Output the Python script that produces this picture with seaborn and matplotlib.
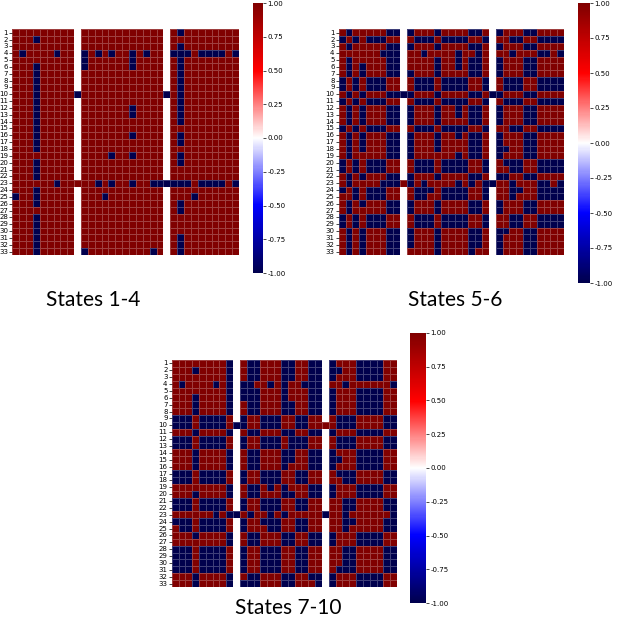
import numpy as np
import seaborn as sns
import matplotlib.pyplot as plt

# states 1-4: blue (-1) cells per row (1-based column numbers), everything else red (+1)
blue_1_4 = [
    [25], [4], [25],
    [2, 7, 11, 13, 15, 18, 20, 24, 25, 26, 28, 29, 30, 31, 33],
    [11, 18, 25], [4, 11, 18, 25], [4, 25], [4, 25], [4, 25],
    [4, 10, 23, 25], [4, 25], [4, 18, 25], [4, 18, 25], [4, 25],
    [4], [4, 18, 25], [4, 25], [4], [15, 18, 25], [4, 25], [4], [4],
    [7, 13, 15, 18, 21, 22, 23, 24, 25, 26, 28, 29, 30, 31, 33],
    [4], [1, 4, 14, 27], [4, 25], [25], [4], [4], [4], [4, 25], [4, 25],
    [4, 11, 21, 25],
]
# white (zero) columns, filled only on these rows
blank_cols = [10, 23]
filled_rows = [10, 23]

# row/column sign flips seen in the other two panels
flip_5_6 = "+-+++++--+-+++-++++--++--++--++++"
flip_7_10 = "++++++++--+--+++--++--+--++----++"

labels = list(range(1, 34))
titles = ["States 1-4", "States 5-6", "States 7-10"]


def build_base():
    m = np.ones((33, 33))
    for c in blank_cols:
        m[:, c - 1] = 0
    for r in filled_rows:
        for c in blank_cols:
            m[r - 1, c - 1] = 1
    for i, cols in enumerate(blue_1_4):
        for c in cols:
            m[i, c - 1] = -1
    return m


def signs(s):
    return np.array([1 if ch == "+" else -1 for ch in s])


base = build_base()
mats = [base,
        np.outer(signs(flip_5_6), signs(flip_5_6)) * base,
        np.outer(signs(flip_7_10), signs(flip_7_10)) * base]

W = 617
fig = plt.figure(figsize=(6.17, 6.17), dpi=100)


def box(x0, y0, x1, y1):
    # pixel box (top-left origin) -> figure fraction
    return [x0 / W, 1 - y1 / W, (x1 - x0) / W, (y1 - y0) / W]


heat_boxes = [box(12.3, 29.3, 239, 255), box(338.7, 29.3, 564, 255), box(171.7, 360, 397, 587)]
cbar_boxes = [box(252.5, 3, 263, 273), box(578, 3, 590, 283), box(410, 333, 426, 603)]
title_pos = [(93, 300), (455, 300), (288, 608)]

ticks = [-1, -0.75, -0.5, -0.25, 0, 0.25, 0.5, 0.75, 1]

for m, hb, cb, t, tp in zip(mats, heat_boxes, cbar_boxes, titles, title_pos):
    ax = fig.add_axes(hb)
    cax = fig.add_axes(cb)
    sns.heatmap(m, cmap="seismic", vmin=-1, vmax=1, ax=ax, cbar_ax=cax,
                linewidths=0.4, linecolor=(1, 1, 1, 0.25),
                xticklabels=False, yticklabels=labels,
                cbar_kws={"ticks": ticks, "format": "%.2f"})
    ax.tick_params(axis="y", labelsize=5, labelrotation=0, length=2, width=0.5, pad=1)
    ax.tick_params(axis="x", length=0)
    cax.tick_params(labelsize=5, length=2, width=0.5, pad=1)
    fig.text(tp[0] / W, 1 - tp[1] / W, t, ha="center", va="center",
             fontsize=15, family=["Lato", "DejaVu Sans"])

fig.savefig("out.png", dpi=100)
